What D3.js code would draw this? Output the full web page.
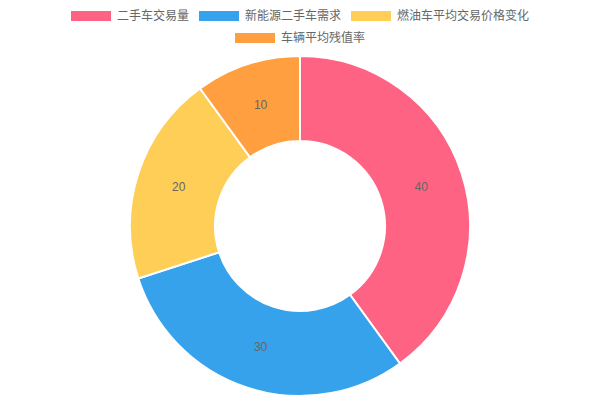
<!DOCTYPE html>
<html>
<head>
<meta charset="utf-8">
<script src="https://cdn.jsdelivr.net/npm/d3@7"></script>
<style>
  html, body { margin: 0; padding: 0; background: #fff; }
  svg text { font-family: "Noto Sans CJK SC", "Noto Sans", sans-serif; }
</style>
</head>
<body>
<div id="chart"></div>
<script>
// chart data
const categories = ['二手车交易量', '新能源二手车需求', '燃油车平均交易价格变化', '车辆平均残值率'];
const values = [40, 30, 20, 10];
const colors = ['#FF6384', '#36A2EB', '#FFCE56', '#FF9F40'];

const width = 600, height = 400;
const center = { x: 300, y: 226 };
const outerRadius = 170, innerRadius = 85;

const svg = d3.select('#chart').append('svg')
  .attr('width', width)
  .attr('height', height);

// legend, laid out in rows like the original
const boxW = 40, boxH = 10, fontSize = 12, itemPad = 10, rowGap = 22;
const legendRows = [[0, 1, 2], [3]];
const charWidth = fontSize;

const legend = svg.append('g').attr('class', 'legend');

legendRows.forEach((row, r) => {
  let widths = row.map(i => boxW + fontSize / 2 + categories[i].length * charWidth);
  let total = d3.sum(widths) + itemPad * (row.length - 1);
  let x = (width - total) / 2;
  let y = 16 + r * rowGap;

  row.forEach((i, k) => {
    let g = legend.append('g').attr('transform', 'translate(' + x + ',' + y + ')');
    g.append('rect')
      .attr('x', 0)
      .attr('y', -boxH / 2)
      .attr('width', boxW)
      .attr('height', boxH)
      .style('fill', colors[i]);
    g.append('text')
      .attr('x', boxW + fontSize / 2)
      .attr('y', 0)
      .attr('dy', '0.35em')
      .style('font-size', fontSize + 'px')
      .style('fill', '#666')
      .text(categories[i]);
    x += widths[k] + itemPad;
  });
});

// doughnut
const pie = d3.pie().sort(null).value(d => d);
const arc = d3.arc().innerRadius(innerRadius).outerRadius(outerRadius);

const arcs = svg.append('g')
  .attr('class', 'data')
  .attr('transform', 'translate(' + center.x + ',' + center.y + ')');

arcs.selectAll('path')
  .data(pie(values))
  .enter().append('path')
  .attr('d', arc)
  .style('fill', (d, i) => colors[i])
  .style('stroke', '#fff')
  .style('stroke-width', 2);

arcs.selectAll('text')
  .data(pie(values))
  .enter().append('text')
  .attr('transform', d => 'translate(' + arc.centroid(d) + ')')
  .attr('text-anchor', 'middle')
  .attr('dy', '0.35em')
  .style('font-family', '"Liberation Sans", Arial, sans-serif')
  .style('font-size', '12px')
  .style('fill', '#666')
  .text(d => d.data);
</script>
</body>
</html>
